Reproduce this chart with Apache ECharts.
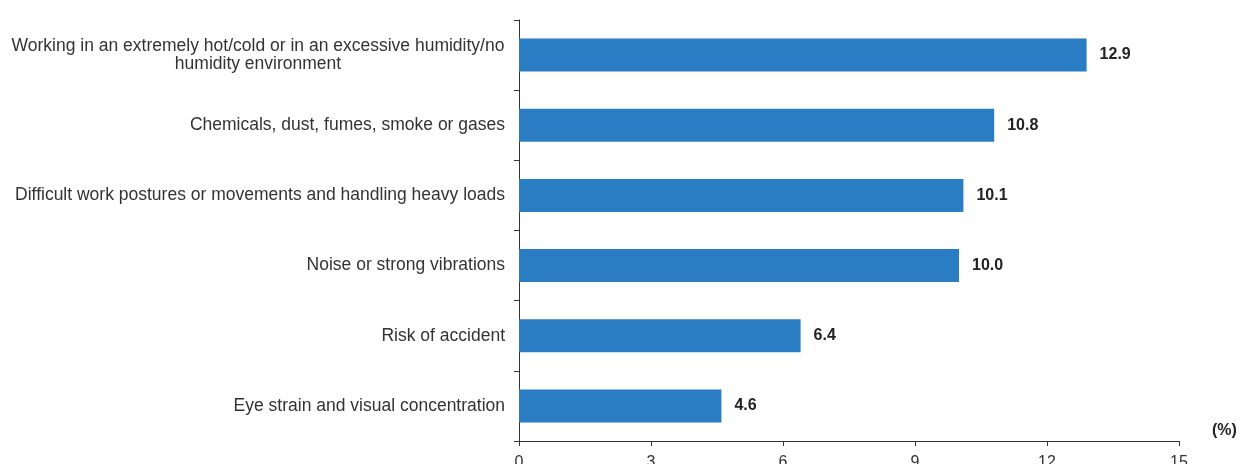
<!DOCTYPE html>
<html>
<head>
<meta charset="utf-8">
<script src="https://cdn.jsdelivr.net/npm/echarts@6/dist/echarts.min.js"></script>
<style>
  html, body { margin: 0; padding: 0; background: #fff; }
  #chart { width: 1240px; height: 464px; }
</style>
</head>
<body>
<div id="chart"></div>
<script>
    // categories, bottom to top (as drawn by the category axis)
    var categories = [
        'Eye strain and visual concentration',
        'Risk of accident',
        'Noise or strong vibrations',
        'Difficult work postures or movements and handling heavy loads',
        'Chemicals, dust, fumes, smoke or gases',
        'Working in an extremely hot/cold or in an excessive humidity/no\nhumidity environment'
    ];
    var values = [4.6, 6.4, 10.0, 10.1, 10.8, 12.9];
    var xTicks = [0, 3, 6, 9, 12, 15];

    var myChart = echarts.init(document.getElementById('chart'));
    myChart.setOption({
        animation: false,
        textStyle: { fontFamily: 'Liberation Sans, Arial, sans-serif' },
        grid: { left: 519, right: 61, top: 20, bottom: 23, containLabel: false, outerBoundsMode: 'none' },
        xAxis: {
            type: 'value',
            min: xTicks[0],
            max: xTicks[xTicks.length - 1],
            interval: 3,
            splitLine: { show: false },
            axisLine: { show: true, lineStyle: { color: '#333', width: 1 } },
            axisTick: { show: true, length: 5, lineStyle: { color: '#333' } },
            axisLabel: { color: '#333', fontSize: 16, margin: 14 }
        },
        yAxis: {
            type: 'category',
            data: categories,
            axisLine: { show: true, lineStyle: { color: '#333', width: 1 } },
            axisTick: { show: true, length: 5, lineStyle: { color: '#333' } },
            axisLabel: {
                color: '#333',
                fontSize: 17.5,
                margin: 14,
                lineHeight: 18,
                formatter: function (v) {
                    if (v.indexOf('\n') >= 0) {
                        return v.split('\n').map(function (s) { return '{c|' + s + '}'; }).join('\n');
                    }
                    return v;
                },
                rich: {
                    c: { width: 494, align: 'center', fontSize: 17.5, color: '#333', lineHeight: 18 }
                }
            }
        },
        series: [{
            type: 'bar',
            data: values,
            barWidth: 33,
            itemStyle: { color: '#2a7dc3' },
            label: {
                show: true,
                position: 'right',
                distance: 13,
                fontWeight: 'bold',
                fontSize: 16,
                color: '#222',
                formatter: function (p) { return p.value.toFixed(1); }
            }
        }],
        graphic: [{
            type: 'text',
            left: 1212,
            top: 423,
            style: { text: '(%)', font: 'bold 16px Liberation Sans, Arial, sans-serif', fill: '#222' }
        }]
    });
</script>
</body>
</html>
